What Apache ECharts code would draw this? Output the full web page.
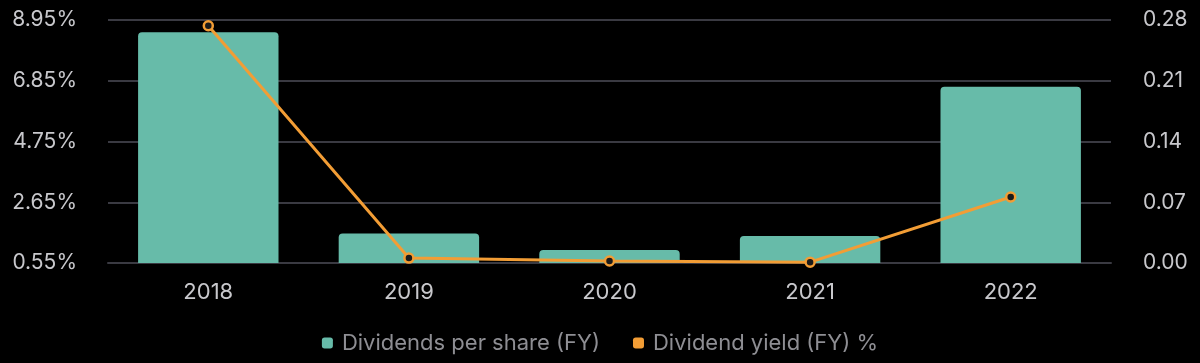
<!DOCTYPE html>
<html><head><meta charset="utf-8">
<script src="https://cdn.jsdelivr.net/npm/echarts@6/dist/echarts.min.js"></script>
<style>html,body{margin:0;padding:0;background:#000;}#c{width:1200px;height:363px;}</style>
</head><body><div id="c"></div>
<script>
const years = ['2018','2019','2020','2021','2022'];
const dividendsPerShare = [0.266, 0.034, 0.015, 0.031, 0.203];
const dividendYield = [8.75, 0.72, 0.62, 0.58, 2.83];
const leftTicks = [0.55, 2.65, 4.75, 6.85, 8.95];

const FONT = 'Inter, Roboto, sans-serif';
const chart = echarts.init(document.getElementById('c'), null, {renderer:'canvas'});
chart.setOption({
  backgroundColor: '#000',
  animation: false,
  grid: {left: 108, right: 89, top: 20, bottom: 100},
  legend: {
    top: 327, left: 'center', itemWidth: 11, itemHeight: 11, itemGap: 33,
    icon: 'roundRect',
    textStyle: {color: '#8e8e93', fontSize: 22, fontFamily: FONT, padding: [0,0,0,4]},
    data: [
      {name: 'Dividends per share (FY)', itemStyle: {color: '#67bba9'}},
      {name: 'Dividend yield (FY) %', itemStyle: {color: '#f29d35', borderWidth: 0}}
    ]
  },
  xAxis: {
    type: 'category', data: years,
    axisLine: {show: true, lineStyle: {color: '#3a3a42', width: 2}},
    axisTick: {show: false},
    axisLabel: {color: '#c8c8cc', fontSize: 22, margin: 18, fontFamily: FONT}
  },
  yAxis: [
    {
      type: 'value', position: 'left', min: leftTicks[0], max: leftTicks[leftTicks.length-1],
      axisLine: {show: false}, axisTick: {show: false}, splitLine: {show: false},
      axisLabel: {color: '#c8c8cc', fontSize: 21, margin: 31, customValues: leftTicks,
        fontFamily: FONT, formatter: v => v.toFixed(2) + '%'}
    },
    {
      type: 'value', position: 'right', min: 0, max: 0.28, interval: 0.07,
      axisLine: {show: false}, axisTick: {show: false},
      splitLine: {show: true, lineStyle: {color: '#3a3a42', width: 2}},
      axisLabel: {color: '#c8c8cc', fontSize: 21, margin: 32,
        fontFamily: FONT, formatter: v => v.toFixed(2)}
    }
  ],
  series: [
    {
      name: 'Dividends per share (FY)', type: 'bar', yAxisIndex: 1,
      data: dividendsPerShare, barWidth: '70%',
      itemStyle: {color: '#67bba9', borderRadius: [4,4,0,0]}
    },
    {
      name: 'Dividend yield (FY) %', type: 'line', yAxisIndex: 0,
      data: dividendYield, symbol: 'circle', symbolSize: 9,
      lineStyle: {color: '#f29d35', width: 3},
      itemStyle: {color: '#1a1a1a', borderColor: '#f29d35', borderWidth: 2.5},
      emphasis: {disabled: true}
    }
  ]
});
</script></body></html>
